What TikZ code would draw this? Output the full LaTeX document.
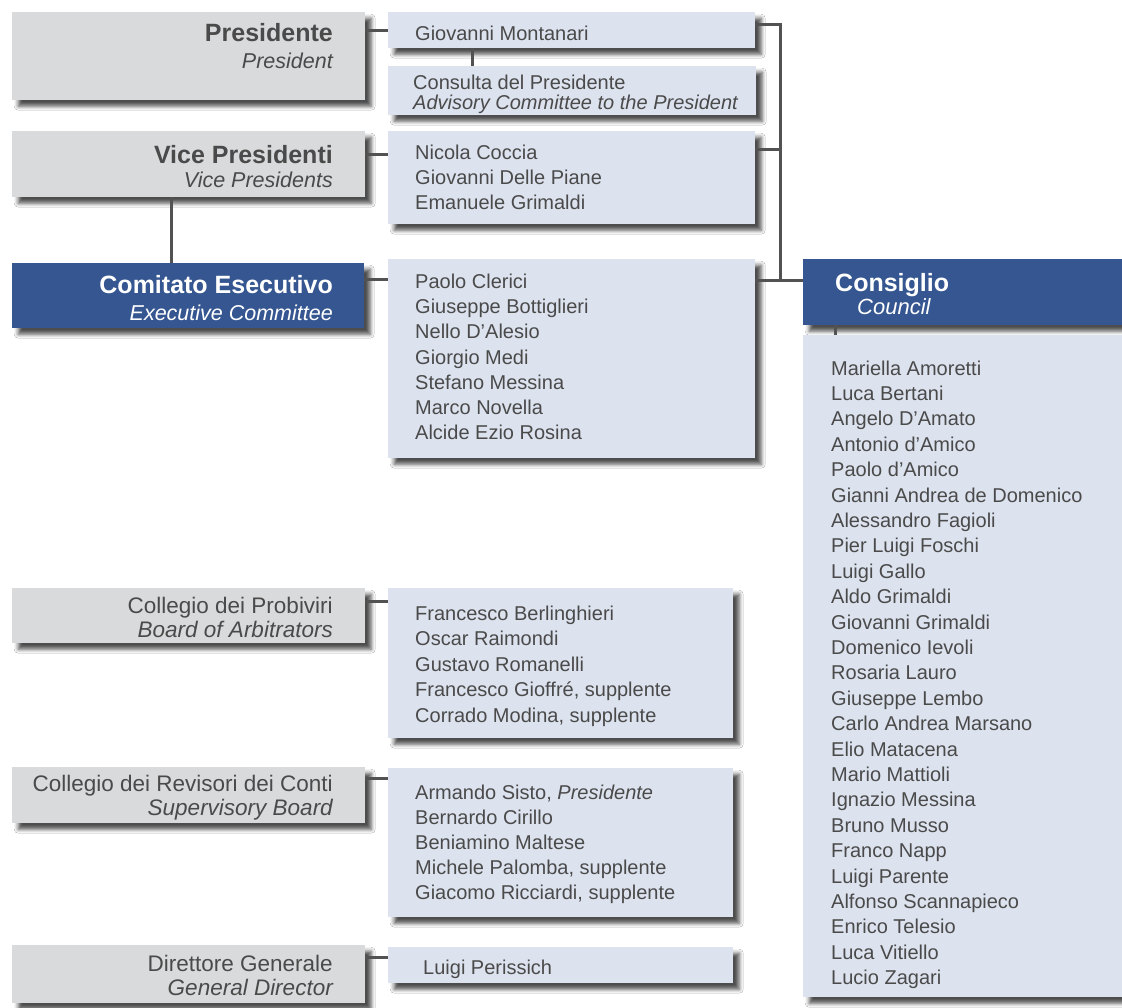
\documentclass[tikz,border=0pt]{standalone}
\usepackage{fontspec}
\setmainfont{Liberation Sans}
\usetikzlibrary{shadows.blur}
\definecolor{boxgray}{HTML}{D9DADB}
\definecolor{boxlight}{HTML}{DCE2EE}
\definecolor{boxblue}{HTML}{355690}
\definecolor{txtgray}{HTML}{4A4A4A}
\definecolor{linegray}{HTML}{525252}
\begin{document}
\begin{tikzpicture}[x=1pt,y=-1pt,
  shd/.style={blur shadow={shadow xshift=6pt,shadow yshift=-6pt,shadow blur radius=4pt,shadow opacity=70}},
  graybox/.style={shd,fill=boxgray,inner sep=0pt,anchor=north west},
  lightbox/.style={shd,fill=boxlight,inner sep=0pt,anchor=north west},
  bluebox/.style={shd,fill=boxblue,inner sep=0pt,anchor=north west},
  ttlb/.style={font=\fontsize{25}{30}\selectfont\bfseries,text=txtgray,inner sep=0pt,anchor=base east},
  ttli/.style={font=\fontsize{21.5}{25}\selectfont\itshape,text=txtgray,inner sep=0pt,anchor=base east},
  ttlr/.style={font=\fontsize{22.5}{27}\selectfont,text=txtgray,inner sep=0pt,anchor=base east},
  names/.style={font=\fontsize{20}{25}\selectfont,text=txtgray,align=left,inner sep=0pt,anchor=north west},
  conn/.style={draw=linegray,line width=3pt}]
\useasboundingbox (0,0) rectangle (1122,1008);
\fill[white] (0,0) rectangle (1122,1008);

% left boxes
\node[graybox,minimum width=353pt,minimum height=88pt] (pres) at (12,12) {};
\node[graybox,minimum width=353pt,minimum height=66pt] (vice) at (12,131) {};
\node[bluebox,minimum width=352pt,minimum height=65pt] (comit) at (12,263) {};
\node[graybox,minimum width=353pt,minimum height=55pt] (prob) at (12,588) {};
\node[graybox,minimum width=353pt,minimum height=56pt] (rev) at (12,767) {};
\node[graybox,minimum width=353pt,minimum height=58pt] (dir) at (12,945) {};

% middle boxes
\node[lightbox,minimum width=367pt,minimum height=36pt] (mont) at (388,12) {};
\node[lightbox,minimum width=368pt,minimum height=49pt] (cons) at (388,66) {};
\node[lightbox,minimum width=367pt,minimum height=93pt] (nic) at (388,131) {};
\node[lightbox,minimum width=367pt,minimum height=199pt] (paolo) at (388,259) {};
\node[lightbox,minimum width=345pt,minimum height=150pt] (probN) at (388,588) {};
\node[lightbox,minimum width=345pt,minimum height=149pt] (revN) at (388,768) {};
\node[lightbox,minimum width=345pt,minimum height=36pt] (dirN) at (388,947) {};

% council
\node[bluebox,minimum width=330pt,minimum height=66pt] (council) at (803,259) {};
\node[lightbox,minimum width=330pt,minimum height=662pt] (councilN) at (803,335) {};

% titles
\node[ttlb] (presT) at (333,42) {Presidente};
\node[ttli] (presI) at (333,68.5) {President};
\node[ttlb] (viceT) at (333,164) {Vice Presidenti};
\node[ttli] (viceI) at (333,187.5) {Vice Presidents};
\node[ttlb,text=white] (comitT) at (333,294) {Comitato Esecutivo};
\node[ttli,text=white] (comitI) at (333,320.5) {Executive Committee};
\node[ttlr] (probT) at (333,613) {Collegio dei Probiviri};
\node[ttli,font=\fontsize{22.5}{27}\selectfont\itshape] (probI) at (333,637) {Board of Arbitrators};
\node[ttlr] (revT) at (333,791) {Collegio dei Revisori dei Conti};
\node[ttli,font=\fontsize{22.5}{27}\selectfont\itshape] (revI) at (333,815) {Supervisory Board};
\node[ttlr] (dirT) at (333,971) {Direttore Generale};
\node[ttli,font=\fontsize{22.5}{27}\selectfont\itshape] (dirI) at (333,995) {General Director};
\node[ttlb,text=white,anchor=base west] (councilT) at (835,292) {Consiglio};
\node[ttli,text=white,anchor=base west,font=\fontsize{22}{27}\selectfont\itshape] (councilI) at (857,315) {Council};

% name lists
\node[names] (montL) at (415,26) {Giovanni Montanari};
\node[names,font=\fontsize{20}{20}\selectfont] (consL) at (413,74.5) {Consulta del Presidente\\\textit{Advisory Committee to the President}};
\node[names] (nicL) at (415,144.5) {Nicola Coccia\\Giovanni Delle Piane\\Emanuele Grimaldi};
\node[names,font=\fontsize{20}{25.3}\selectfont] (paoloL) at (415,273.5) {Paolo Clerici\\Giuseppe Bottiglieri\\Nello D'Alesio\\Giorgio Medi\\Stefano Messina\\Marco Novella\\Alcide Ezio Rosina};
\node[names,font=\fontsize{20}{25.5}\selectfont] (probL) at (415,605.5) {Francesco Berlinghieri\\Oscar Raimondi\\Gustavo Romanelli\\Francesco Gioffré, supplente\\Corrado Modina, supplente};
\node[names,font=\fontsize{20}{25.2}\selectfont] (revL) at (415,784.5) {Armando Sisto, \textit{Presidente}\\Bernardo Cirillo\\Beniamino Maltese\\Michele Palomba, supplente\\Giacomo Ricciardi, supplente};
\node[names] (dirL) at (423,959.5) {Luigi Perissich};
\node[names,font=\fontsize{20}{25.4}\selectfont] (councilL) at (831,360.5) {Mariella Amoretti\\Luca Bertani\\Angelo D'Amato\\Antonio d'Amico\\Paolo d'Amico\\Gianni Andrea de Domenico\\Alessandro Fagioli\\Pier Luigi Foschi\\Luigi Gallo\\Aldo Grimaldi\\Giovanni Grimaldi\\Domenico Ievoli\\Rosaria Lauro\\Giuseppe Lembo\\Carlo Andrea Marsano\\Elio Matacena\\Mario Mattioli\\Ignazio Messina\\Bruno Musso\\Franco Napp\\Luigi Parente\\Alfonso Scannapieco\\Enrico Telesio\\Luca Vitiello\\Lucio Zagari};

% connector levels
\coordinate (l1) at (0,31);
\coordinate (l2) at (0,155);
\coordinate (l3) at (0,280);
\coordinate (l4) at (0,601);
\coordinate (l5) at (0,778);
\coordinate (l6) at (0,957);
\coordinate (bt) at (780,25);
\coordinate (bm) at (780,150);
\coordinate (bb) at (780,281);
\coordinate (vx) at (171,0);
\coordinate (mx) at (472,0);
\coordinate (cx) at (835,0);

% connectors
\draw[conn] (pres.east |- l1) -- (mont.west |- l1);
\draw[conn] (vice.east |- l2) -- (nic.west |- l2);
\draw[conn] (comit.east |- l3) -- (paolo.west |- l3);
\draw[conn] (prob.east |- l4) -- (probN.west |- l4);
\draw[conn] (rev.east |- l5) -- (revN.west |- l5);
\draw[conn] (dir.east |- l6) -- (dirN.west |- l6);
\draw[conn] (vice.south -| vx) -- (comit.north -| vx);
\draw[conn] (mont.south -| mx) -- (cons.north -| mx);
\draw[conn] (council.south -| cx) -- (councilN.north -| cx);
\draw[conn] (mont.east |- bt) -- (bt) -- (bb);
\draw[conn] (nic.east |- bm) -- (bm);
\draw[conn] (paolo.east |- bb) -- (council.west |- bb);
\end{tikzpicture}
\end{document}
